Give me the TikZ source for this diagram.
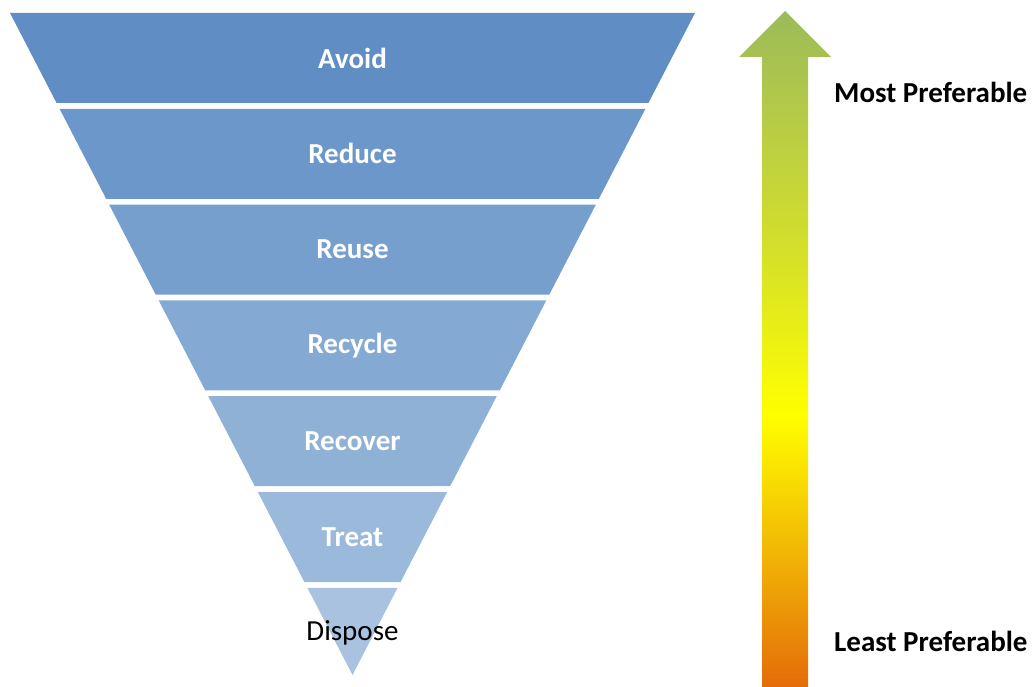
\documentclass[tikz,border=0pt]{standalone}
\usepackage{fontspec}
\setmainfont{Carlito}
\definecolor{b0}{HTML}{5F8DC4}
\definecolor{b1}{HTML}{6B97CA}
\definecolor{b2}{HTML}{779FCE}
\definecolor{b3}{HTML}{84A9D2}
\definecolor{b4}{HTML}{8FB1D6}
\definecolor{b5}{HTML}{9BBADB}
\definecolor{b6}{HTML}{A8C2E0}
\definecolor{s1}{HTML}{E46C0A}
\definecolor{s2}{HTML}{F2B705}
\definecolor{s3}{HTML}{FFFF00}
\definecolor{s4}{HTML}{D4E02A}
\definecolor{s5}{HTML}{B2C84A}
\definecolor{s6}{HTML}{9BBB59}
\pgfdeclareverticalshading{prefshade}{100bp}{color(0bp)=(s1); color(25bp)=(s1); color(35.1bp)=(s2); color(45.1bp)=(s3); color(57.3bp)=(s4); color(68.4bp)=(s5); color(75bp)=(s6); color(100bp)=(s6)}
\tikzset{
  bandlabel/.style={font=\fontsize{29}{34}\selectfont\bfseries, text=white, inner sep=0pt},
  displabel/.style={font=\fontsize{29}{34}\selectfont, text=black, inner sep=0pt},
  sidelabel/.style={font=\fontsize{29}{34}\selectfont\bfseries, text=black, inner sep=0pt, anchor=west}
}
\begin{document}
\begin{tikzpicture}[x=1pt,y=-1pt]
\useasboundingbox (0,0) rectangle (1033,687);
\foreach \i/\col in {0/b0,1/b1,2/b2,3/b3,4/b4,5/b5,6/b6}{
  \pgfmathsetmacro\bt{13+\i*95.8}
  \pgfmathsetmacro\bb{min(\bt+90,675)}
  \pgfmathsetmacro\wt{0.51737*(675-\bt)}
  \pgfmathsetmacro\wb{0.51737*(675-\bb)}
  \fill[\col] (352.5-\wt,\bt) -- (352.5+\wt,\bt) -- (352.5+\wb,\bb) -- (352.5-\wb,\bb) -- cycle;
}
\node[bandlabel] (avoid) at (352.5,58) {Avoid};
\node[bandlabel] (reduce) at (352.5,153.8) {Reduce};
\node[bandlabel] (reuse) at (352.5,249.6) {Reuse};
\node[bandlabel] (recycle) at (352.5,345.4) {Recycle};
\node[bandlabel] (recover) at (352.5,441.2) {Recover};
\node[bandlabel] (treat) at (352.5,537) {Treat};
\node[displabel] (dispose) at (352.5,632.8) {Dispose};
\shade[shading=prefshade] (762,687) -- (762,57) -- (739,57) -- (785,11) -- (831,57) -- (808,57) -- (808,687) -- cycle;
\node[sidelabel] (most) at (834,92) {Most Preferable};
\node[sidelabel] (least) at (834,641) {Least Preferable};
\end{tikzpicture}
\end{document}
